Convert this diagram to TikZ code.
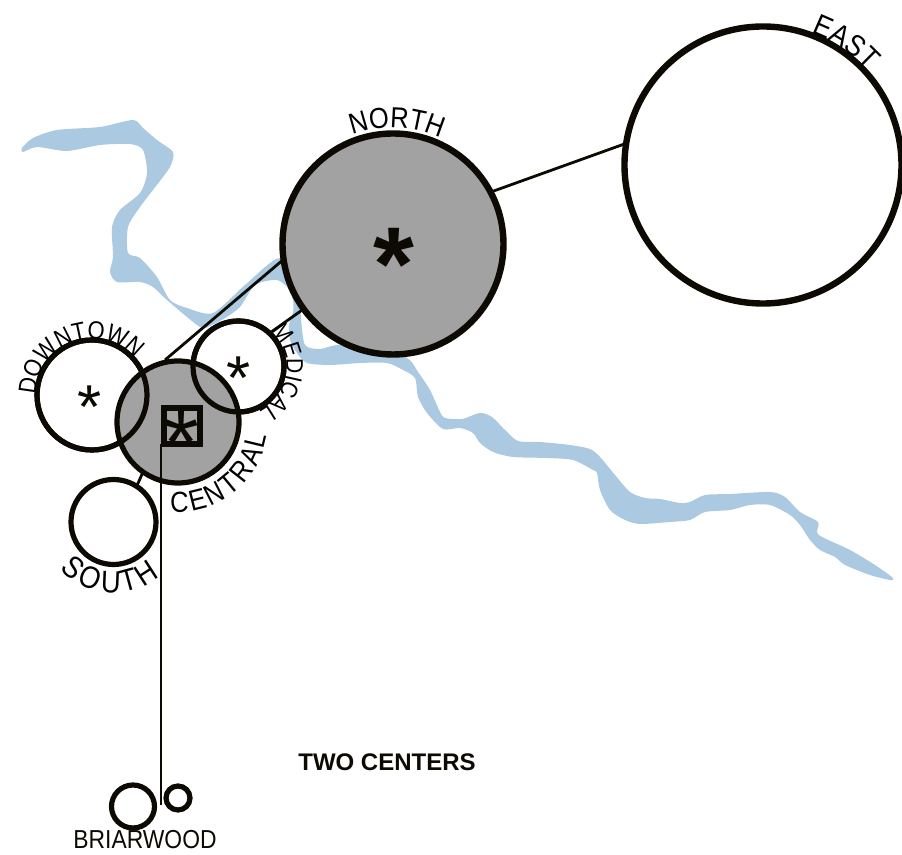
\documentclass[tikz,border=0pt]{standalone}
\usepackage{fontspec}
\setmainfont{Liberation Sans}
\newfontfamily\narrowfont[FakeStretch=0.88]{Liberation Sans}
\usetikzlibrary{decorations.text}
\definecolor{river}{HTML}{ABCAE2}
\definecolor{ink}{HTML}{0D0A03}
\definecolor{hub}{HTML}{A2A2A2}
\newcommand{\fs}[1]{\fontsize{#1}{#1}\selectfont}
\tikzset{
  x=1pt,y=1pt,
  ring/.style={circle,draw=ink,line width=#1,inner sep=0pt,outer sep=0pt},
  ring/.default=5.2pt,
  link/.style={draw=ink,line width=2.8pt},
  curved/.style={decorate,decoration={text along path,text align=center,raise=0pt,text={#1}}},
  curvedin/.style={decorate,decoration={text along path,text align=center,raise=-12pt,text={#1}}},
  star/.style={anchor=north,inner sep=0pt,outer sep=0pt,text=ink}
}
\begin{document}
\begin{tikzpicture}
\useasboundingbox (0,0) rectangle (902,854);
\begin{scope}[x=1pt,y=-1pt,yshift=854pt]
\fill[river] plot[smooth cycle,tension=0.45] coordinates {
(22,148)(33,138)(57,130)(100,127)(133,120)(143,128)(157,140)(173,152)(171,165)(163,177)(140,207)(128,227)(128,253)(140,258)(157,277)(170,300)(187,308)(213,313)(245,285)(280,258)(300,290)(301,318)(305,345)(320,349)(337,345)(370,345)(407,358)(418,372)(430,390)(440,412)(445,418)(462,419)(480,413)(492,417)(505,430)(518,441)(540,442)(570,445)(590,449)(600,457)(615,475)(630,492)(645,498)(660,499)(680,503)(690,502)(705,495)(730,494)(770,492)(785,497)(800,512)(818,522)(817,532)(822,537)(850,550)(875,565)(893,578)(890,580)(870,575)(845,565)(835,557)(820,550)(810,540)(800,525)(790,515)(770,505)(750,505)(730,510)(705,512)(690,520)(670,522)(640,524)(625,520)(610,510)(600,490)(597,473)(593,470)(573,460)(547,458)(513,457)(493,452)(480,443)(473,433)(460,428)(443,429)(427,413)(418,397)(415,378)(403,370)(387,363)(360,363)(330,365)(307,363)(297,353)(290,340)(289,325)(293,313)(293,300)(287,287)(277,280)(262,282)(253,287)(240,307)(225,318)(212,325)(200,327)(167,300)(153,287)(140,282)(117,282)(110,272)(113,257)(112,227)(120,210)(140,193)(147,173)(143,150)(130,144)(100,145)(67,151)(37,147)(23,152)};
\end{scope}
% circles
\node[ring=6.4pt,minimum size=277pt,fill=white] (east) at (763,689) {};
\node[ring=6.4pt,minimum size=221pt,fill=hub] (north) at (393,610) {};
\node[ring,minimum size=110pt,fill=white] (downtown) at (92,459) {};
\node[ring,minimum size=91pt,fill=white] (medical) at (238.5,487.5) {};
\node[ring,minimum size=85pt,fill=white] (south) at (113.5,332) {};
\node[ring,minimum size=43pt] (big) at (133,47.5) {};
\node[ring,minimum size=24pt] (small) at (178,56) {};
\coordinate (brw) at (161,49);
\coordinate (cjoin) at (165,494);
% connectors
\draw[link] (north.28) -- (east.171.4);
\draw[link] (north.188) -- (cjoin);
\draw[link] (north.216) -- (medical.47);
\node[ring,minimum size=122pt,fill=hub] (central) at (178,432) {};
\draw[link] (central.235) -- (south.57.6);
\draw[draw=ink,line width=5.2pt] (downtown) circle[radius=55];
\draw[draw=ink,line width=5.2pt] (medical) circle[radius=45.5];
\node[draw=ink,line width=6pt,minimum size=36pt,inner sep=0pt,outer sep=0pt] (sq) at (181.7,428) {};
\draw[draw=ink,line width=1.2pt] (sq.south west -| brw) -- (brw);
% asterisks
\node[star,font=\bfseries\fs{105}] (s1) at (394,626) {*};
\node[star,font=\fs{62}] (s2) at (90,468) {*};
\node[star,font=\fs{62}] (s3) at (239,497) {*};
\node[star,font=\fs{92}] (s4) at (181.5,443) {*};
% labels
\path[curved={|\narrowfont\fs{29}|NORTH}] (393,610) ++(125:116) arc[start angle=125,end angle=51,radius=116];
\path[curved={|\narrowfont\fs{30}|EAST}] (763,689) ++(92:141) arc[start angle=92,end angle=20,radius=141];
\path[curved={|\narrowfont\fs{25}|DOWNTOWN}] (92,459) ++(200:56) arc[start angle=200,end angle=20,radius=56];
\path[curved={|\narrowfont\fs{24}|MEDICAL}] (238.5,487.5) ++(61:48) arc[start angle=61,end angle=-79,radius=48];
\path[curvedin={|\narrowfont\fs{29}|CENTRAL}] (178,432) ++(-132:78) arc[start angle=-132,end angle=28,radius=78];
\path[curvedin={|\narrowfont\fs{31}|SOUTH}] (113.5,332) ++(186:59) arc[start angle=186,end angle=346,radius=59];
\node[inner sep=0pt,text=ink,font=\narrowfont\fs{26}] (briar) at (145,14) {BRIARWOOD};
\node[inner sep=0pt,text=ink,font=\bfseries\fs{24}] (title) at (387,92) {TWO CENTERS};
\end{tikzpicture}
\end{document}
